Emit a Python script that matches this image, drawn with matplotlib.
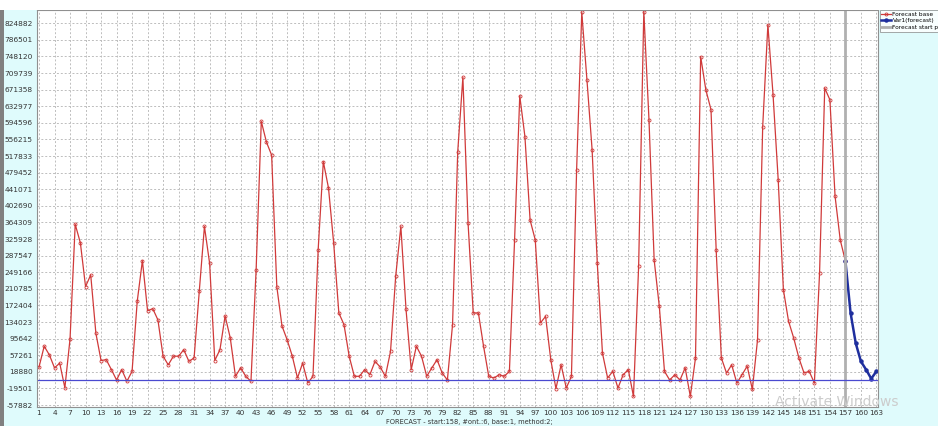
"""
Forecast chart: base series, Var1 forecast and forecast start marker.
"""

import matplotlib
matplotlib.use("Agg")
import matplotlib.pyplot as plt
from matplotlib.patches import Rectangle

# --- Data ---
# Forecast base, periods 1..157
BASE_PERIODS = list(range(1, 158))
BASE_VALUES = [
    30000, 78000, 58000, 28000, 39000, -18000, 95000, 360000, 317000, 216000,
    243000, 108000, 45000, 47000, 24000, 0, 24000, -3000, 20000, 182000,
    276000, 160000, 165000, 139000, 55000, 35000, 55000, 55000, 70000, 43000,
    51000, 205000, 355000, 270000, 45000, 70000, 148000, 97000, 8500, 28000,
    8500, -3000, 255000, 598000, 550000, 520000, 216000, 125000, 93000, 55000,
    4600, 39000, -7000, 8500, 301000, 505000, 444000, 317000, 155000, 128000,
    55000, 8500, 8500, 24000, 12000, 43000, 30000, 8500, 66000, 240000,
    355000, 163000, 24000, 78000, 55000, 8500, 28000, 47000, 16000, 0,
    128000, 528000, 700000, 363000, 155000, 155000, 78000, 8500, 4600, 12000,
    8500, 20000, 324000, 657000, 563000, 370000, 324000, 132000, 147000, 47000,
    -20000, 35000, -18500, 8500, 486000, 850000, 694000, 532000, 270000, 62000,
    4600, 20000, -18500, 12000, 24000, -38000, 263000, 852000, 602000, 278000,
    170000, 20000, 0, 12000, 0, 28000, -38000, 51000, 748000, 671000,
    625000, 300000, 51000, 16000, 35000, -7000, 12000, 32000, -22000, 93000,
    586000, 821000, 660000, 463000, 209000, 136000, 97000, 51000, 16000, 20000,
    -7000, 247000, 675000, 648000, 425000, 324000, 275000,
]

# Var1 (forecast), periods 157..163
FC_PERIODS = [157, 158, 159, 160, 161, 162, 163]
FC_VALUES = [275000, 155000, 85000, 43000, 24000, 3000, 20000]

FORECAST_START = 157

X_TICKS = list(range(1, 164, 3))
Y_TICKS = [-57882 + 38381 * k for k in range(24)]
Y_LABELS = [
    "-57882", "-19501", "18880", "57261", "95642", "134023", "172404",
    "210785", "249166", "287547", "325928", "364309", "402690", "441071",
    "479452", "517833", "556215", "594596", "632977", "671358", "709739",
    "748120", "786501", "824882",
]

BG = "#dffbfc"
RED = "#d03a3a"
BLUE = "#1f2f9e"


def main():
    fig = plt.figure(figsize=(9.38, 4.26), dpi=100, facecolor=BG)

    # white strip at the top and gray border on the left, like the app window
    fig.patches.append(Rectangle((0, 0.9765), 1, 0.03, transform=fig.transFigure,
                                 facecolor="white", edgecolor="none", zorder=0))
    fig.patches.append(Rectangle((0, 0.0), 0.004, 0.9765, transform=fig.transFigure,
                                 facecolor="#808080", edgecolor="none", zorder=0))

    ax = fig.add_axes([0.0394, 0.0446, 0.8966, 0.9319])
    ax.set_facecolor("white")

    ax.plot(BASE_PERIODS, BASE_VALUES, "-o", color=RED, lw=0.9,
            markersize=2.2, mfc="none", mew=0.6, label="Forecast base")
    ax.plot(FC_PERIODS, FC_VALUES, "-o", color=BLUE, lw=1.8,
            markersize=2.2, label="Var1(forecast)")
    ax.axvline(FORECAST_START, color="#b0b0b0", lw=2,
               label="Forecast start point")
    ax.axhline(0, color="#4a4ad0", lw=0.9)

    ax.set_xlim(0.6, 163.3)
    ax.set_ylim(-62500, 855600)
    ax.set_xticks(X_TICKS)
    ax.set_xticklabels([str(t) for t in X_TICKS])
    ax.set_yticks(Y_TICKS)
    ax.set_yticklabels(Y_LABELS)
    ax.tick_params(length=0, labelsize=5.3, labelcolor="#333333")
    ax.tick_params(axis="x", pad=2)
    ax.tick_params(axis="y", pad=3)

    ax.grid(True, color="#bdbdbd", linestyle=(0, (2, 2)), lw=0.7)
    for side in ax.spines.values():
        side.set_color("#909090")
        side.set_linewidth(0.8)

    # legend sits just right of the plot; the window cuts it off on the right
    leg = ax.legend(loc="upper left", bbox_to_anchor=(1.002, 1.0),
                    fontsize=4.2, frameon=True, fancybox=False,
                    borderpad=0.3, labelspacing=0.25, handlelength=1.6,
                    handletextpad=0.3, borderaxespad=0)
    leg.get_frame().set_edgecolor("#808080")
    leg.get_frame().set_linewidth(0.6)

    # caption under the axis
    fig.text(0.5, 0.002, "FORECAST - start:158, #ont.:6, base:1, method:2;",
             ha="center", va="bottom", fontsize=4.8, color="#333333")

    # screenshot watermark
    fig.text(0.826, 0.04, "Activate Windows", fontsize=10, color="#cccccc",
             ha="left", va="bottom")

    fig.savefig("out.png", dpi=100, facecolor=BG)


if __name__ == "__main__":
    main()
